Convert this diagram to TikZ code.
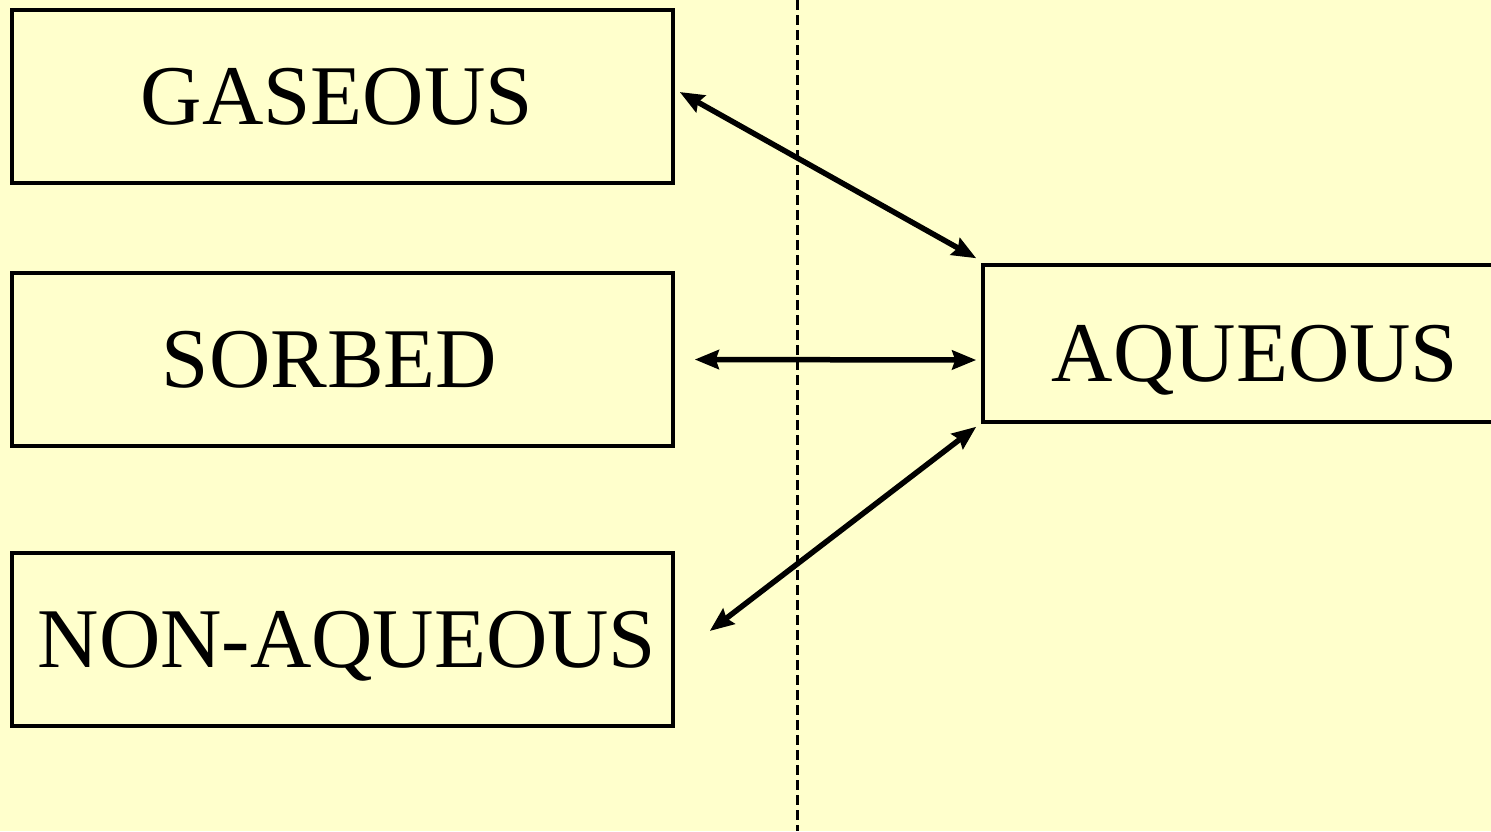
\documentclass[tikz,border=0pt]{standalone}
\usepackage{fontspec}
\setmainfont{Liberation Serif}
\usetikzlibrary{arrows.meta}
\definecolor{pale}{HTML}{FFFFCC}
\tikzset{
  phase/.style={draw, line width=3.5pt, minimum width=661pt, minimum height=173pt,
    inner sep=0pt, text height=56pt, text depth=0pt, font=\fontsize{85}{100}\selectfont},
  swap/.style={{Stealth[length=24pt,width=19pt,inset=3pt]}-{Stealth[length=24pt,width=19pt,inset=3pt]}, line width=5.5pt}
}
\begin{document}
\begin{tikzpicture}[x=1pt, y=-1pt, line join=miter]
% Hintergrund und Rahmen des Bildes
\fill[pale] (0,0) rectangle (1491,831);
\useasboundingbox (0,0) rectangle (1491,831);
% Trennlinie
\draw[line width=3pt, dash pattern=on 10pt off 5pt] (797,0) -- (797,831);
% Phasen links
\node[phase] (gas) at (342.5,96.5) {GASEOUS\kern11pt};
\node[phase] (sor) at (342.5,359.5) {SORBED\kern26pt};
\node[phase] (non) at (342.5,639.5) {\kern9pt NON-AQUEOUS};
% Phase rechts (geht über den Rand hinaus)
\node[phase, minimum width=544pt, minimum height=157pt, text height=76pt] (aq) at (1255,343.5) {AQUEOUS};
% Austausch zwischen den Phasen
\draw[swap] ([xshift=5pt,yshift=4.5pt]gas.east) -- ([xshift=-5pt,yshift=5pt]aq.north west);
\draw[swap] ([xshift=20pt]sor.east) -- ([xshift=-5pt,yshift=-16.5pt]aq.west);
\draw[swap] ([xshift=35pt,yshift=8.5pt]non.east) -- ([xshift=-5pt,yshift=-3pt]aq.south west);
\end{tikzpicture}
\end{document}
